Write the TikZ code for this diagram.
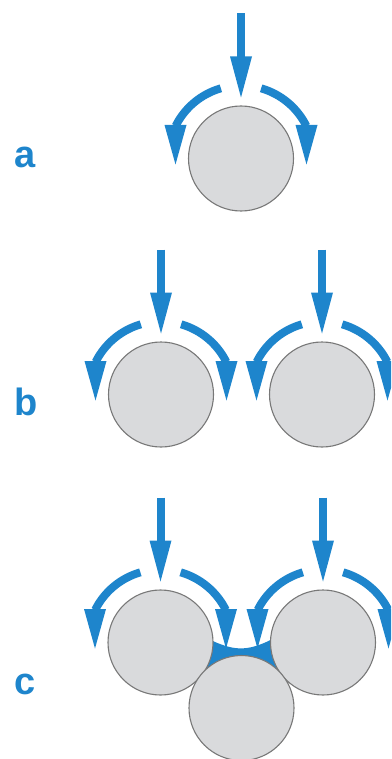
\documentclass[tikz,border=0pt]{standalone}
\usepackage{fontspec}
\setmainfont{Liberation Sans}
\definecolor{flowblue}{RGB}{30,133,204}
\definecolor{grainfill}{RGB}{217,218,220}
\definecolor{grainline}{RGB}{120,120,120}
\tikzset{
  grain/.style={circle, draw=grainline, fill=grainfill, line width=1.1pt, minimum size=105pt, inner sep=0pt},
  shaft/.style={draw=flowblue, line width=8pt},
  headtip/.style={fill=flowblue},
  panellabel/.style={text=flowblue, font=\bfseries\fontsize{38}{38}\selectfont, anchor=base west, inner sep=0pt},
  pics/flow/.style={code={
    % vertical arrow
    \draw[shaft] (0,-145) -- (0,-100);
    \fill[headtip] (-11,-102) -- (11,-102) -- (0,-61) -- cycle;
    % left curved arrow
    \draw[shaft] (-106:73) arc[start angle=-106, end angle=-153.5, radius=73];
    \fill[headtip] (-76.5,-33.5) -- (-54.5,-33.5) -- (-65.5,6) -- cycle;
    % right curved arrow
    \draw[shaft] (-74:73) arc[start angle=-74, end angle=-26.5, radius=73];
    \fill[headtip] (54.5,-33.5) -- (76.5,-33.5) -- (65.5,6) -- cycle;
  }}
}
\begin{document}
\begin{tikzpicture}[x=1pt,y=-1pt]
  \useasboundingbox (0,0) rectangle (391,759);
  \clip (0,0) rectangle (391,759);
  % panel a
  \pic at (241,158.5) {flow};
  \node[grain] (a1) at (241,158.5) {};
  \node[panellabel] (la) at (14,168) {a};
  % panel b
  \pic at (161,394.5) {flow};
  \pic at (322,394.5) {flow};
  \node[grain] (b1) at (161,394.5) {};
  \node[grain] (b2) at (322,394.5) {};
  \node[panellabel] (lb) at (14,415) {b};
  % panel c
  \fill[flowblue] (212.8,641) .. controls (235,651) and (248,651) .. (270.5,640)
     -- (282.25,675.25) -- (241.5,708) -- (201,675.5) -- cycle;
  \pic at (160.5,642.5) {flow};
  \pic at (323,642.5) {flow};
  \node[grain] (c1) at (160.5,642.5) {};
  \node[grain] (c2) at (323,642.5) {};
  \node[grain] (c3) at (241.5,708) {};
  \node[panellabel] (lc) at (14,694) {c};
\end{tikzpicture}
\end{document}
